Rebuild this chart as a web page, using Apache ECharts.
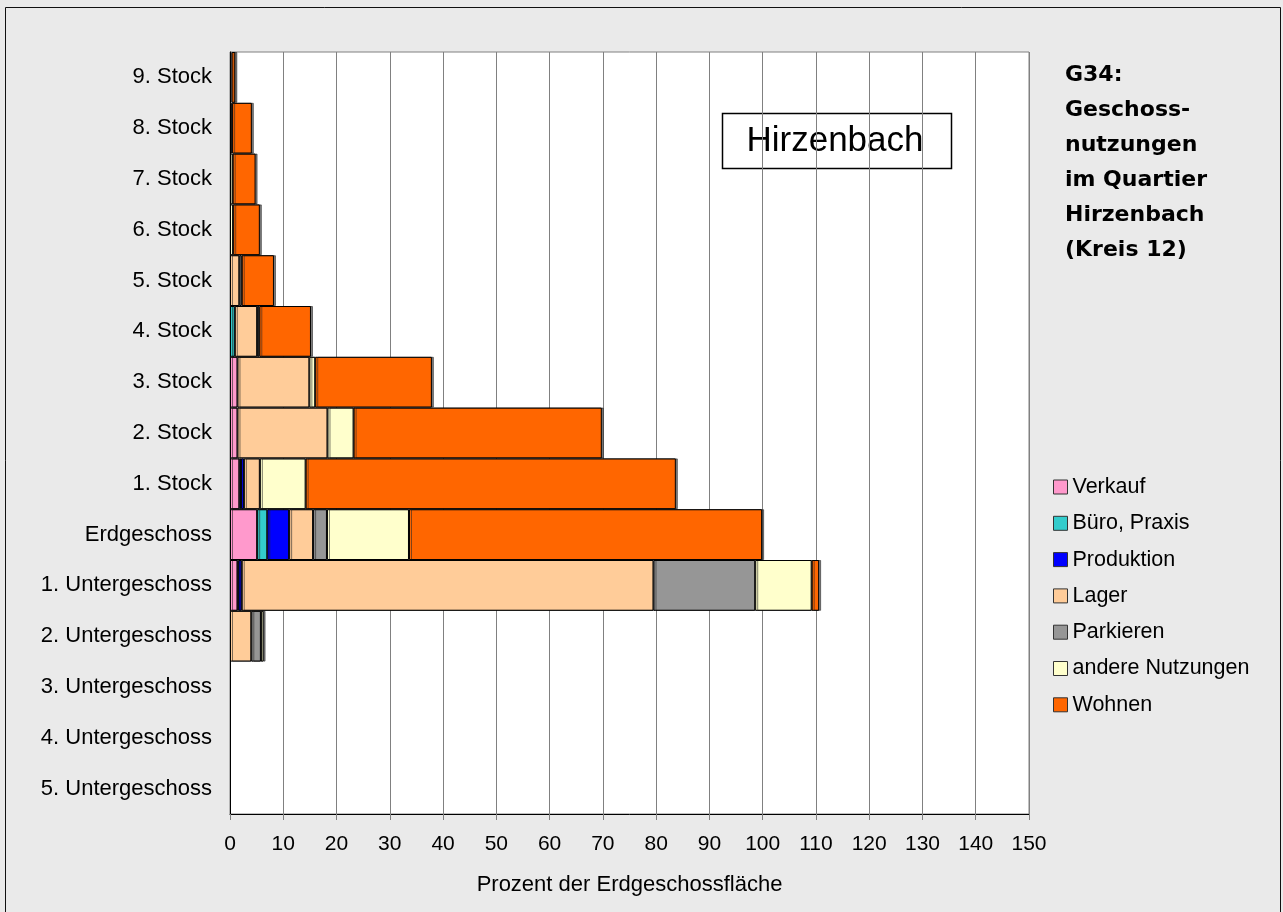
<!DOCTYPE html>
<html>
<head>
<meta charset="utf-8">
<script src="https://cdn.jsdelivr.net/npm/echarts@6/dist/echarts.min.js"></script>
<style>
  html, body { margin: 0; padding: 0; background: #eaeaea; }
  #chart { width: 1283px; height: 912px; }
</style>
</head>
<body>
<div id="chart"></div>
<script>
// Geschosse, von oben nach unten
const categories = [
  '9. Stock', '8. Stock', '7. Stock', '6. Stock', '5. Stock', '4. Stock',
  '3. Stock', '2. Stock', '1. Stock', 'Erdgeschoss',
  '1. Untergeschoss', '2. Untergeschoss', '3. Untergeschoss',
  '4. Untergeschoss', '5. Untergeschoss'
];

// Anteile in Prozent der Erdgeschossfläche, je Nutzung
const verkauf    = [0,   0,   0,   0,   0,    0,   1.4,  1.4,  1.75, 5.1,  1.4,  0,   0, 0, 0];
const bueroPraxis= [0,   0,   0,   0,   0,    0.9, 0,    0,    0.3,  1.9,  0.2,  0,   0, 0, 0];
const produktion = [0,   0,   0,   0,   0,    0,   0,    0,    0.55, 4.1,  0.6,  0,   0, 0, 0];
const lager      = [0,   0,   0,   0,   1.75, 4.2, 13.5, 16.9, 3.0,  4.5,  77.3, 4.0, 0, 0, 0];
const parkieren  = [0.3, 0.4, 0,   0,   0.45, 0.4, 0,    0,    0,    2.6,  19.1, 1.8, 0, 0, 0];
const andere     = [0,   0,   0.5, 0.6, 0,    0,   1.1,  4.9,  8.6,  15.4, 10.6, 0.5, 0, 0, 0];
const wohnen     = [0.7, 3.7, 4.3, 5.0, 6.05, 9.7, 21.9, 46.6, 69.5, 66.3, 1.4,  0,   0, 0, 0];

const xTicks = [0, 10, 20, 30, 40, 50, 60, 70, 80, 90, 100, 110, 120, 130, 140, 150];

const seriesDefs = [
  { name: 'Verkauf',          values: verkauf,     color: '#ff99cc' },
  { name: 'Büro, Praxis',     values: bueroPraxis, color: '#33cccc' },
  { name: 'Produktion',       values: produktion,  color: '#0000ff' },
  { name: 'Lager',            values: lager,       color: '#ffcc99' },
  { name: 'Parkieren',        values: parkieren,   color: '#969696' },
  { name: 'andere Nutzungen', values: andere,      color: '#ffffcc' },
  { name: 'Wohnen',           values: wohnen,      color: '#ff6600' }
];

const FONT = '"Liberation Sans", Arial, sans-serif';

const chart = echarts.init(document.getElementById('chart'), null, { renderer: 'canvas' });

chart.setOption({
  backgroundColor: '#eaeaea',
  animation: false,
  textStyle: { fontFamily: FONT, color: '#000' },
  grid: {
    left: 230, right: 254, top: 52, bottom: 98,
    show: true, backgroundColor: '#ffffff', borderColor: '#808080', borderWidth: 1
  },
  xAxis: {
    type: 'value',
    min: xTicks[0], max: xTicks[xTicks.length - 1], interval: 10,
    name: 'Prozent der Erdgeschossfläche',
    nameLocation: 'middle', nameGap: 60,
    nameTextStyle: { fontSize: 22, color: '#000', fontFamily: FONT },
    axisLine: { show: true, lineStyle: { color: '#000', width: 1 } },
    axisTick: { show: true, length: 6, lineStyle: { color: '#808080' } },
    axisLabel: { fontSize: 21, color: '#000', margin: 20, fontFamily: FONT },
    splitLine: { show: true, lineStyle: { color: '#808080', width: 1 } }
  },
  yAxis: {
    type: 'category',
    inverse: true,
    data: categories,
    axisLine: { show: true, lineStyle: { color: '#000', width: 1 } },
    axisTick: { show: false },
    axisLabel: { fontSize: 22, color: '#000', margin: 18, fontFamily: FONT },
    splitLine: { show: false }
  },
  legend: {
    orient: 'vertical',
    left: 1053, top: 476, padding: 0,
    itemWidth: 14, itemHeight: 14, itemGap: 14.3,
    icon: 'rect',
    itemStyle: { borderColor: '#333', borderWidth: 1, shadowBlur: 0, shadowOffsetX: 0, shadowOffsetY: 0 },
    textStyle: { fontSize: 21.5, color: '#000', lineHeight: 22, fontFamily: FONT },
    data: seriesDefs.map(s => s.name)
  },
  series: seriesDefs.map(s => ({
    name: s.name,
    type: 'bar',
    stack: 'flaeche',
    barCategoryGap: '0%',
    itemStyle: {
      color: s.color, borderColor: '#000', borderWidth: 1,
      shadowColor: 'rgba(40,40,40,0.6)', shadowOffsetX: 2, shadowOffsetY: 0, shadowBlur: 0
    },
    emphasis: { disabled: true },
    data: s.values.map(v => (v === 0 ? '-' : v))
  })),
  graphic: [
    {
      type: 'rect', silent: true, z: -1,
      shape: { x: 5.5, y: 7.5, width: 1275, height: 920 },
      style: { fill: 'none', stroke: '#111', lineWidth: 1 }
    },
    {
      type: 'group', z: 100,
      children: [
        {
          type: 'rect',
          shape: { x: 722.5, y: 113.5, width: 229, height: 55 },
          style: { fill: '#fff', stroke: '#000', lineWidth: 1.5 }
        },
        {
          type: 'text',
          style: {
            x: 835, y: 141, text: 'Hirzenbach',
            fontSize: 35, fontFamily: FONT, fill: '#000',
            align: 'center', verticalAlign: 'middle'
          }
        }
      ]
    },
    {
      type: 'text', z: 100,
      style: {
        x: 1065, y: 58,
        text: 'G34:\nGeschoss-\nnutzungen\nim Quartier\nHirzenbach\n(Kreis 12)',
        fontSize: 22, fontWeight: 'bold', lineHeight: 35,
        fontFamily: '"DejaVu Sans", sans-serif', fill: '#000',
        verticalAlign: 'top'
      }
    }
  ]
});
</script>
</body>
</html>
